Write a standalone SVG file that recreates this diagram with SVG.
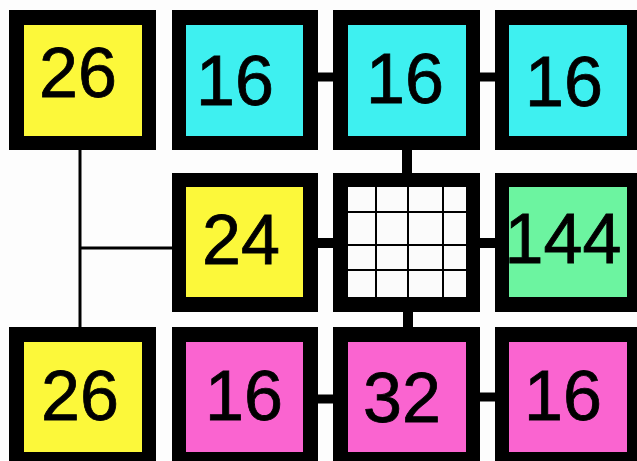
<svg xmlns="http://www.w3.org/2000/svg" width="637" height="461" viewBox="0 0 637 461">
<style>
.frame{fill:#000}
.y{fill:#fcf83a}
.c{fill:#3ef0f0}
.g{fill:#6cf4a0}
.p{fill:#fa64d0}
.w{fill:#fbfbfb}
.t{font-family:"Liberation Sans",Arial,sans-serif;font-size:70px;fill:#000;stroke:#000;stroke-width:0.8;text-anchor:middle}
.thick{stroke:#000;fill:none}
.thin{stroke:#000;stroke-width:3;fill:none}
.grid{stroke:#000;stroke-width:2;fill:none}
</style>
<rect width="637" height="461" fill="#fdfdfd"/>
<g id="connectors">
<line class="thin" x1="80" y1="150" x2="80" y2="327"/>
<line class="thin" x1="80" y1="248" x2="172" y2="248"/>
<line class="thick" stroke-width="9" x1="318" y1="77" x2="333" y2="77"/>
<line class="thick" stroke-width="9" x1="480" y1="77" x2="495" y2="77"/>
<line class="thick" stroke-width="10" x1="407" y1="150" x2="407" y2="173"/>
<line class="thick" stroke-width="10" x1="318" y1="243" x2="333" y2="243"/>
<line class="thick" stroke-width="10" x1="480" y1="243" x2="495" y2="243"/>
<line class="thick" stroke-width="10" x1="408" y1="312" x2="408" y2="327"/>
<line class="thick" stroke-width="9" x1="318" y1="399" x2="333" y2="399"/>
<line class="thick" stroke-width="9" x1="480" y1="397" x2="495" y2="397"/>
</g>
<g id="n-r1c1"><rect class="frame" x="9" y="10" width="147" height="140"/><rect class="y" x="24" y="25" width="118" height="111"/><text class="t" x="78" y="97">26</text></g>
<g id="n-r1c2"><rect class="frame" x="172" y="10" width="146" height="140"/><rect class="c" x="186" y="25" width="117" height="111"/><text class="t" x="235" y="105">16</text></g>
<g id="n-r1c3"><rect class="frame" x="333" y="10" width="147" height="140"/><rect class="c" x="348" y="25" width="118" height="111"/><text class="t" x="405" y="103">16</text></g>
<g id="n-r1c4"><rect class="frame" x="495" y="10" width="146" height="140"/><rect class="c" x="509" y="25" width="118" height="111"/><text class="t" x="564" y="106">16</text></g>
<g id="n-r2c2"><rect class="frame" x="172" y="173" width="146" height="139"/><rect class="y" x="186" y="187" width="117" height="110"/><text class="t" x="241" y="264">24</text></g>
<g id="n-r2c3"><rect class="frame" x="333" y="173" width="147" height="139"/><rect class="w" x="348" y="187" width="118" height="110"/>
<line class="grid" x1="376" y1="187" x2="376" y2="297"/><line class="grid" x1="408" y1="187" x2="408" y2="297"/><line class="grid" x1="443" y1="187" x2="443" y2="297"/>
<line class="grid" x1="348" y1="212" x2="466" y2="212"/><line class="grid" x1="348" y1="245" x2="466" y2="245"/><line class="grid" x1="348" y1="270" x2="466" y2="270"/></g>
<g id="n-r2c4"><rect class="frame" x="495" y="173" width="146" height="139"/><rect class="g" x="509" y="187" width="118" height="110"/><text class="t" x="563" y="263">144</text></g>
<g id="n-r3c1"><rect class="frame" x="9" y="327" width="147" height="140"/><rect class="y" x="24" y="342" width="118" height="110"/><text class="t" x="80" y="420">26</text></g>
<g id="n-r3c2"><rect class="frame" x="172" y="327" width="146" height="140"/><rect class="p" x="186" y="342" width="117" height="110"/><text class="t" x="244" y="420">16</text></g>
<g id="n-r3c3"><rect class="frame" x="333" y="327" width="147" height="140"/><rect class="p" x="348" y="342" width="118" height="110"/><text class="t" x="402" y="422">32</text></g>
<g id="n-r3c4"><rect class="frame" x="495" y="327" width="146" height="140"/><rect class="p" x="509" y="342" width="118" height="110"/><text class="t" x="563" y="420">16</text></g>
</svg>
